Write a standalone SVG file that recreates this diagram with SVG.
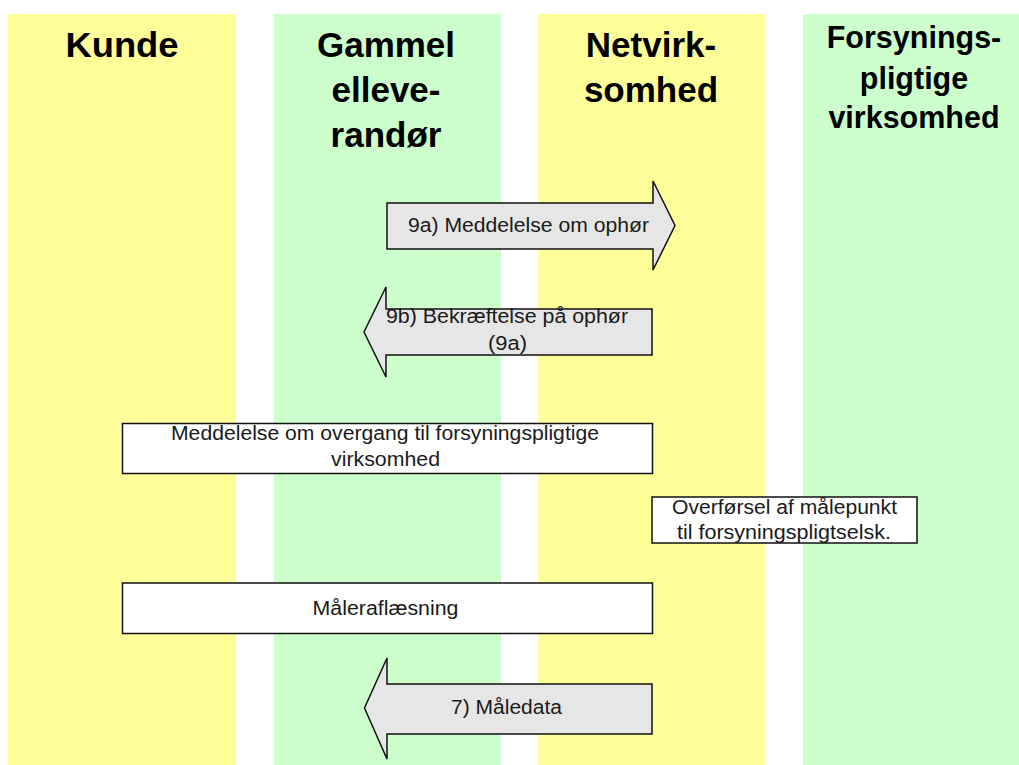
<svg xmlns="http://www.w3.org/2000/svg" width="1019" height="765" viewBox="0 0 1019 765">
<style>
.yel{fill:#FFFF99}
.grn{fill:#CCFFCC}
.hd{font-family:"Liberation Sans",Arial,sans-serif;font-weight:bold;fill:#000;text-anchor:middle}
.lbl{font-family:"Liberation Sans",Arial,sans-serif;font-size:19.5px;fill:#1a1a1a;text-anchor:middle}
.arrow{fill:#E6E6E6;stroke:#111;stroke-width:1.5;stroke-linejoin:miter}
.box{fill:#FFFFFF;stroke:#111;stroke-width:1.5}
</style>
<rect width="1019" height="765" fill="#FFFFFF"/>
<g id="lane-kunde">
<rect class="yel" x="8" y="14" width="228" height="751"/>
<text class="hd" x="122" y="57" font-size="35" textLength="113" lengthAdjust="spacingAndGlyphs">Kunde</text>
</g>
<g id="lane-gammel">
<rect class="grn" x="274" y="14" width="227" height="751"/>
<text class="hd" x="386" y="57" font-size="35">Gammel</text>
<text class="hd" x="386" y="102" font-size="35">elleve-</text>
<text class="hd" x="386" y="147" font-size="35">randør</text>
</g>
<g id="lane-net">
<rect class="yel" x="538" y="14" width="227" height="751"/>
<text class="hd" x="651" y="57" font-size="35">Netvirk-</text>
<text class="hd" x="651" y="102" font-size="35">somhed</text>
</g>
<g id="lane-forsyning">
<rect class="grn" x="803" y="14" width="216" height="751"/>
<text class="hd" x="914" y="48" font-size="30.5">Forsynings-</text>
<text class="hd" x="914" y="89" font-size="30.5">pligtige</text>
<text class="hd" x="914" y="128" font-size="30.5">virksomhed</text>
</g>
<g id="connectors">
<g id="msg-9a">
<polygon class="arrow" points="387,203 653,203 653,181 675,225.5 653,270 653,249 387,249"/>
<text class="lbl" x="528.5" y="232" textLength="241" lengthAdjust="spacingAndGlyphs">9a) Meddelelse om ophør</text>
</g>
<g id="msg-9b">
<polygon class="arrow" points="652,309 386,309 386,287 364,332 386,377 386,355 652,355"/>
<text class="lbl" x="507" y="323" textLength="242" lengthAdjust="spacingAndGlyphs">9b) Bekræftelse på ophør</text>
<text class="lbl" x="507.5" y="350" textLength="39" lengthAdjust="spacingAndGlyphs">(9a)</text>
</g>
<g id="msg-overgang">
<rect class="box" x="122.5" y="423.5" width="530" height="50"/>
<text class="lbl" x="385" y="440" textLength="428" lengthAdjust="spacingAndGlyphs">Meddelelse om overgang til forsyningspligtige</text>
<text class="lbl" x="385.5" y="466" textLength="109" lengthAdjust="spacingAndGlyphs">virksomhed</text>
</g>
<g id="msg-overfoersel">
<rect class="box" x="652" y="497" width="265" height="46"/>
<text class="lbl" x="784.5" y="514" textLength="225" lengthAdjust="spacingAndGlyphs">Overførsel af målepunkt</text>
<text class="lbl" x="784" y="539" textLength="214" lengthAdjust="spacingAndGlyphs">til forsyningspligtselsk.</text>
</g>
<g id="msg-maaleraflaesning">
<rect class="box" x="122.5" y="583" width="530" height="50.5"/>
<text class="lbl" x="385.5" y="615" textLength="146" lengthAdjust="spacingAndGlyphs">Måleraflæsning</text>
</g>
<g id="msg-7">
<polygon class="arrow" points="652,684 387,684 387,658 364.5,708 387,759 387,734 652,734"/>
<text class="lbl" x="506.5" y="714" textLength="111" lengthAdjust="spacingAndGlyphs">7) Måledata</text>
</g>
</g>
</svg>
